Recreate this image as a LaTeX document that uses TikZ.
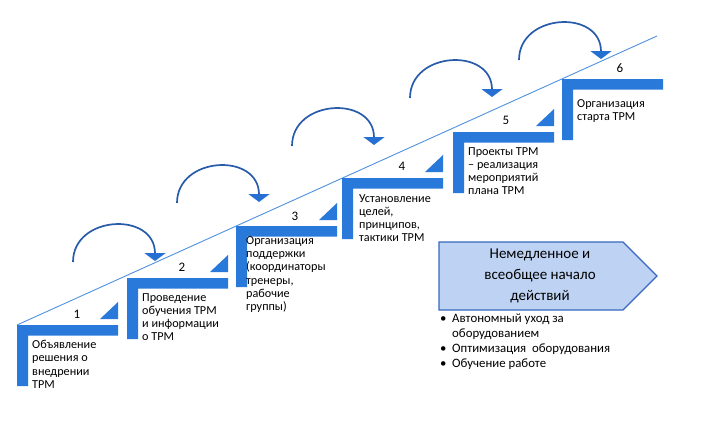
\documentclass[tikz,border=0pt]{standalone}
\usepackage{fontspec}
\setmainfont{Carlito}
\usetikzlibrary{arrows.meta, calc}

\definecolor{stepblue}{RGB}{41,121,219}
\definecolor{rampblue}{RGB}{79,145,222}
\definecolor{arcblue}{RGB}{40,92,170}
\definecolor{tipblue}{RGB}{39,112,211}
\definecolor{boxfill}{RGB}{190,211,243}
\definecolor{boxline}{RGB}{55,105,190}

\tikzset{
  stepnum/.style={font=\fontsize{13}{15}\selectfont, inner sep=0pt},
  steptext/.style={anchor=north west, align=left, inner sep=0pt, font=\fontsize{12.2}{13.3}\selectfont},
  jump/.style={arcblue, line width=1.7pt, -{Triangle[width=21pt, length=8pt, color=tipblue]}}
}

\begin{document}
\begin{tikzpicture}[x=1pt, y=-1pt]
        \useasboundingbox (0,0) rectangle (717,440);

        \coordinate (s1) at (17,325);
        \coordinate (s2) at (127,278);
        \coordinate (s3) at (236,226);
        \coordinate (s4) at (342,178);
        \coordinate (s5) at (453,132);
        \coordinate (s6) at (562,79);
        \coordinate (top) at (657,36);

        \draw[rampblue, line width=0.9pt] (s1) -- (top);

        \fill[stepblue] (s1) rectangle +(101,10.5) (s1) rectangle +(11,61);
        \fill[stepblue] ($(s1)+(83,-6)$) -- +(18,0) -- +(18,-17) -- cycle;
        \fill[stepblue] (s2) rectangle +(101,10.5) (s2) rectangle +(11,61);
        \fill[stepblue] ($(s2)+(83,-6)$) -- +(18,0) -- +(18,-17) -- cycle;
        \fill[stepblue] (s3) rectangle +(101,10.5) (s3) rectangle +(11,61);
        \fill[stepblue] ($(s3)+(83,-6)$) -- +(18,0) -- +(18,-17) -- cycle;
        \fill[stepblue] (s4) rectangle +(101,10.5) (s4) rectangle +(11,61);
        \fill[stepblue] ($(s4)+(83,-6)$) -- +(18,0) -- +(18,-17) -- cycle;
        \fill[stepblue] (s5) rectangle +(101,10.5) (s5) rectangle +(11,61);
        \fill[stepblue] ($(s5)+(83,-6)$) -- +(18,0) -- +(18,-17) -- cycle;
        \fill[stepblue] (s6) rectangle +(101,10.5) (s6) rectangle +(11,61);

        \node[stepnum] (n1) at ($(s1)+(60,-11)$) {1};
        \node[stepnum] (n2) at ($(s2)+(55,-11)$) {2};
        \node[stepnum] (n3) at ($(s3)+(59,-10)$) {3};
        \node[stepnum] (n4) at ($(s4)+(60,-12)$) {4};
        \node[stepnum] (n5) at ($(s5)+(53,-12)$) {5};
        \node[stepnum] (n6) at ($(s6)+(58,-11)$) {6};

        \node[steptext] (t1) at ($(s1)+(15,15)$) {Объявление\\решения о\\внедрении\\TPM};
        \node[steptext] (t2) at ($(s2)+(15,15)$) {Проведение\\обучения TPM\\и информации\\о TPM};
        \node[steptext] (t3) at ($(s3)+(10,10)$) {Организация\\поддержки\\(координаторы\\тренеры,\\рабочие\\группы)};
        \node[steptext] (t4) at ($(s4)+(17,16)$) {Установление\\целей,\\принципов,\\тактики TPM};
        \node[steptext] (t5) at ($(s5)+(15,15)$) {Проекты TPM\\– реализация\\мероприятий\\плана TPM};
        \node[steptext] (t6) at ($(s6)+(15,20)$) {Организация\\старта TPM};

        \coordinate (a1) at (73,262);
        \coordinate (a2) at (177,203);
        \coordinate (a3) at (292,146);
        \coordinate (a4) at (410,98);
        \coordinate (a5) at (519,60);
        \draw[jump] (a1) .. controls +(0,-47) and +(0,-50) .. ($(a1)+(82,-1)$);
        \draw[jump] (a2) .. controls +(0,-47) and +(0,-50) .. ($(a2)+(82,-1)$);
        \draw[jump] (a3) .. controls +(0,-47) and +(0,-50) .. ($(a3)+(82,-1)$);
        \draw[jump] (a4) .. controls +(0,-47) and +(0,-50) .. ($(a4)+(82,-1)$);
        \draw[jump] (a5) .. controls +(0,-47) and +(0,-50) .. ($(a5)+(82,-1)$);

        \draw[boxline, fill=boxfill, line width=1.2pt] (439,242) -- (623,242) -- (657,276) -- (623,310) -- (439,310) -- cycle;
        \node[align=center, inner sep=0pt, font=\fontsize{15}{21}\selectfont] (action) at (540,276) {Немедленное и\\всеобщее начало\\действий};

        \node[anchor=north west, align=left, inner sep=0pt, font=\fontsize{12.8}{15}\selectfont] (list) at (440,314)
            {\makebox[12pt][l]{\textbullet}Автономный уход за\\\makebox[12pt][l]{}оборудованием\\\makebox[12pt][l]{\textbullet}Оптимизация\ \ оборудования\\\makebox[12pt][l]{\textbullet}Обучение работе};
    \end{tikzpicture}
\end{document}
